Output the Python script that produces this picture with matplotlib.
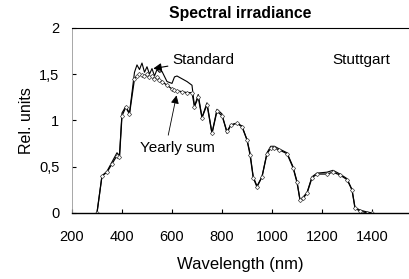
import matplotlib
matplotlib.use("Agg")
import matplotlib.pyplot as plt
from matplotlib.ticker import FuncFormatter

plt.rcParams['font.family'] = ['Liberation Sans', 'DejaVu Sans']

# wavelength grid (nm)
wavelength = [300, 320, 340, 360, 380, 390, 400, 415, 430, 450, 460, 470, 480, 490,
              500, 510, 520, 530, 540, 550, 560, 580, 600, 610, 620, 640, 660, 680,
              690, 705, 720, 740, 760, 780, 800, 820, 835, 860, 880, 900, 912, 925,
              940, 960, 980, 995, 1010, 1030, 1060, 1084, 1100, 1112, 1124, 1140,
              1160, 1180, 1220, 1244, 1272, 1300, 1320, 1332, 1352, 1380, 1400]

standard = [0.0, 0.40, 0.45, 0.55, 0.65, 0.62, 1.08, 1.15, 1.08, 1.52, 1.60, 1.55, 1.62, 1.52,
            1.58, 1.50, 1.56, 1.48, 1.55, 1.52, 1.53, 1.42, 1.40, 1.47, 1.48, 1.45, 1.42, 1.38,
            1.15, 1.28, 1.03, 1.19, 0.86, 1.12, 1.07, 0.86, 0.95, 0.97, 0.94, 0.79, 0.65, 0.39,
            0.29, 0.39, 0.65, 0.72, 0.72, 0.69, 0.65, 0.50, 0.34, 0.14, 0.17, 0.22,
            0.39, 0.43, 0.44, 0.46, 0.42, 0.37, 0.25, 0.06, 0.03, 0.01, 0.0]

yearly_sum = [0.0, 0.40, 0.44, 0.53, 0.62, 0.60, 1.05, 1.14, 1.07, 1.45, 1.48, 1.50, 1.49, 1.48,
              1.50, 1.47, 1.48, 1.45, 1.47, 1.44, 1.42, 1.38, 1.34, 1.33, 1.32, 1.31, 1.30, 1.30,
              1.15, 1.25, 1.03, 1.17, 0.86, 1.10, 1.05, 0.88, 0.95, 0.97, 0.93, 0.79, 0.63, 0.38,
              0.28, 0.39, 0.64, 0.70, 0.70, 0.68, 0.64, 0.49, 0.33, 0.14, 0.16, 0.21,
              0.38, 0.42, 0.42, 0.44, 0.41, 0.36, 0.25, 0.05, 0.02, 0.0, 0.0]

fig = plt.figure(figsize=(4.09, 2.79), dpi=100)
ax = fig.add_axes([0.176, 0.237, 0.824, 0.663])

ax.plot(wavelength, standard, color='black', lw=0.8)
ax.plot(wavelength, yearly_sum, color='black', lw=0.9, marker='D', ms=2.2,
        mfc='white', mec='#444444', mew=0.5)

ax.set_xlim(200, 1548)
ax.set_ylim(0, 2)
ax.set_xticks([200, 400, 600, 800, 1000, 1200, 1400])
ax.set_yticks([0, 0.5, 1, 1.5, 2])
ax.yaxis.set_major_formatter(FuncFormatter(lambda v, p: ('%g' % v).replace('.', ',')))
ax.tick_params(axis='both', direction='in', labelsize=10.5, length=3)
ax.tick_params(axis='x', pad=12)
ax.tick_params(axis='y', pad=9)

ax.spines['right'].set_visible(False)
ax.spines['left'].set_color('#999999')
ax.spines['left'].set_linewidth(0.6)
ax.spines['top'].set_linewidth(0.8)
ax.spines['bottom'].set_linewidth(1.0)

ax.set_title('Spectral irradiance', fontsize=11.3, fontweight='bold', pad=7)
ax.set_xlabel('Wavelength (nm)', fontsize=12, labelpad=10)
ax.set_ylabel('Rel. units', fontsize=11.5, labelpad=4)

ax.annotate('Standard', xy=(525, 1.56), xytext=(600, 1.65), fontsize=11, va='center',
            arrowprops=dict(arrowstyle='-|>', color='black', lw=0.8, mutation_scale=12,
                            shrinkA=1, shrinkB=0))
ax.text(472, 0.70, 'Yearly sum', fontsize=11, va='center')
ax.annotate('', xy=(618, 1.27), xytext=(585, 0.84),
            arrowprops=dict(arrowstyle='-|>', color='black', lw=0.6, mutation_scale=12,
                            shrinkA=0, shrinkB=0))
ax.text(1240, 1.65, 'Stuttgart', fontsize=11, va='center')

fig.savefig('out.png', dpi=100)
